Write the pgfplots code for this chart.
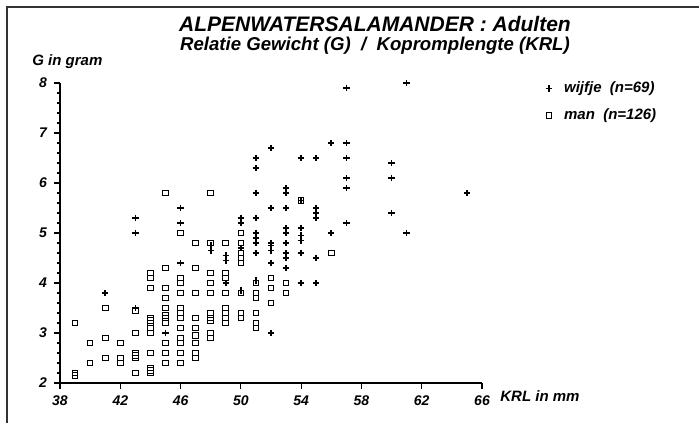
\documentclass[border=0pt]{standalone}
\usepackage{fontspec}
\setmainfont{Liberation Sans}
\usepackage{pgfplots}
\pgfplotsset{compat=1.18}

\begin{document}
\begin{tikzpicture}
\path[use as bounding box] (-30pt,-20pt) rectangle (319.5pt,191.5pt);
% scanned page frame
\draw[line width=1.2pt, black!80] (-26.5pt,-20pt) -- (-26.5pt,188pt) -- (319.5pt,188pt);

\begin{axis}[
    at={(0,0)}, anchor=south west,
    scale only axis, width=211pt, height=150pt,
    xmin=38, xmax=66, ymin=2, ymax=8,
    axis x line=bottom, axis y line=left,
    axis line style={-, line width=0.9pt},
    xtick={38,42,...,66}, ytick={2,...,8},
    minor y tick num=4,
    tick align=outside, major tick length=3pt, minor tick length=1.5pt,
    tick style={black, line width=0.6pt},
    ticklabel style={font=\bfseries\itshape\fontsize{7}{8}\selectfont},
    /pgf/number format/assume math mode=true,
    legend style={at={(1.15,1.02)}, anchor=north west, draw=none, fill=none,
        inner sep=0pt, row sep=2.5pt, cells={anchor=west},
        font=\bfseries\itshape\fontsize{7.5}{8}\selectfont},
    legend image code/.code={\draw[#1] plot coordinates {(0.2cm,0cm)};},
]

% wijfje (n=69)
\addplot[only marks, mark=+, mark size=1.6pt, line width=0.8pt, black] coordinates {
(61,8.0) (57,7.9) (56,6.8) (57,6.8) (52,6.7) (51,6.5) (54,6.5) (55,6.5)
(57,6.5) (51,6.3) (60,6.4) (60,6.1) (57,6.1) (53,5.9) (57,5.9) (65,5.8)
(60,5.4) (61,5.0) (57,5.2) (56,5.0) (55,5.5) (55,5.4) (55,5.3) (54,5.65)
(53,5.8) (52,5.5) (53,5.5) (51,5.8) (51,5.3) (50,5.3) (50,5.2) (53,5.1)
(53,5.0) (54,5.1) (54,4.95) (54,4.85) (51,5.0) (51,4.9) (51,4.8) (53,4.8)
(54,4.6) (55,4.5) (52,4.8) (52,4.65) (52,4.4) (53,4.6) (53,4.5) (53,4.3)
(49,4.45) (51,4.6) (54,4.0) (55,4.0) (52,3.0) (45,3.0) (41,3.8) (43,5.3)
(43,5.0) (46,5.5) (46,5.2) (46,4.4) (48,4.65) (49,4.0) (50,4.7) (43,3.5)
(52,4.75) (49,4.55) (51,4.05) (50,3.85) (48,4.75)
};
\addlegendentry{\hspace{4pt}wijfje\ \ (n=69)}

% man (n=126)
\addplot[only marks, mark=square, mark size=1.4pt, line width=0.5pt, black] coordinates {
(48,5.8) (45,5.8) (46,5.0) (47,4.8) (45,4.3) (47,4.3) (46,4.1) (44,4.2)
(44,4.1) (44,3.9) (45,3.9) (45,3.7) (45,3.5) (45,3.3) (45,3.2) (45,2.8)
(45,2.6) (45,2.4) (46,4.0) (46,3.8) (46,3.5) (46,3.3) (46,3.1) (46,2.9)
(46,2.8) (46,2.6) (46,2.4) (47,3.8) (47,3.3) (47,3.1) (47,2.8) (47,2.6)
(47,2.5) (41,3.5) (43,3.45) (39,3.2) (44,3.3) (44,3.2) (44,3.1) (44,3.0)
(40,2.8) (40,2.4) (41,2.9) (41,2.5) (42,2.8) (42,2.5) (42,2.4) (43,3.0)
(43,2.6) (43,2.5) (43,2.2) (44,2.6) (44,2.3) (44,2.2) (39,2.15) (48,4.8)
(48,4.2) (48,4.0) (48,3.8) (48,3.4) (48,3.25) (48,3.0) (48,2.9) (49,4.8)
(49,4.2) (49,4.1) (49,3.8) (49,3.5) (49,3.4) (49,3.2) (50,5.0) (50,4.8)
(50,4.6) (50,4.4) (50,3.8) (50,3.4) (50,3.3) (51,4.0) (51,3.8) (51,3.7)
(51,3.4) (51,3.2) (51,3.1) (52,4.1) (52,3.9) (52,3.6) (53,4.0) (53,3.8)
(56,4.6) (54,5.65) (44,3.25) (45,3.35) (46,3.4) (47,2.95) (48,3.3) (49,3.3)
(50,4.5) (44,2.25) (43,2.55) (39,2.2)
};
\addlegendentry{\hspace{4pt}man\ \ (n=126)}

\end{axis}

\node[anchor=center, inner sep=0pt, font=\bfseries\itshape\fontsize{10.5}{12}\selectfont] at (157.5pt,179.5pt) {ALPENWATERSALAMANDER : Adulten};
\node[anchor=center, inner sep=0pt, font=\bfseries\itshape\fontsize{9.3}{11}\selectfont] at (157.5pt,168.5pt) {Relatie Gewicht (G)\ \ /\ \ Kopromplengte (KRL)};
\node[anchor=west, inner sep=0pt, font=\bfseries\itshape\fontsize{7.5}{8}\selectfont] at (-14pt,160.5pt) {G in gram};
\node[anchor=west, inner sep=0pt, font=\bfseries\itshape\fontsize{7.5}{8}\selectfont] at (220pt,-6.5pt) {KRL in mm};
\end{tikzpicture}
\end{document}
